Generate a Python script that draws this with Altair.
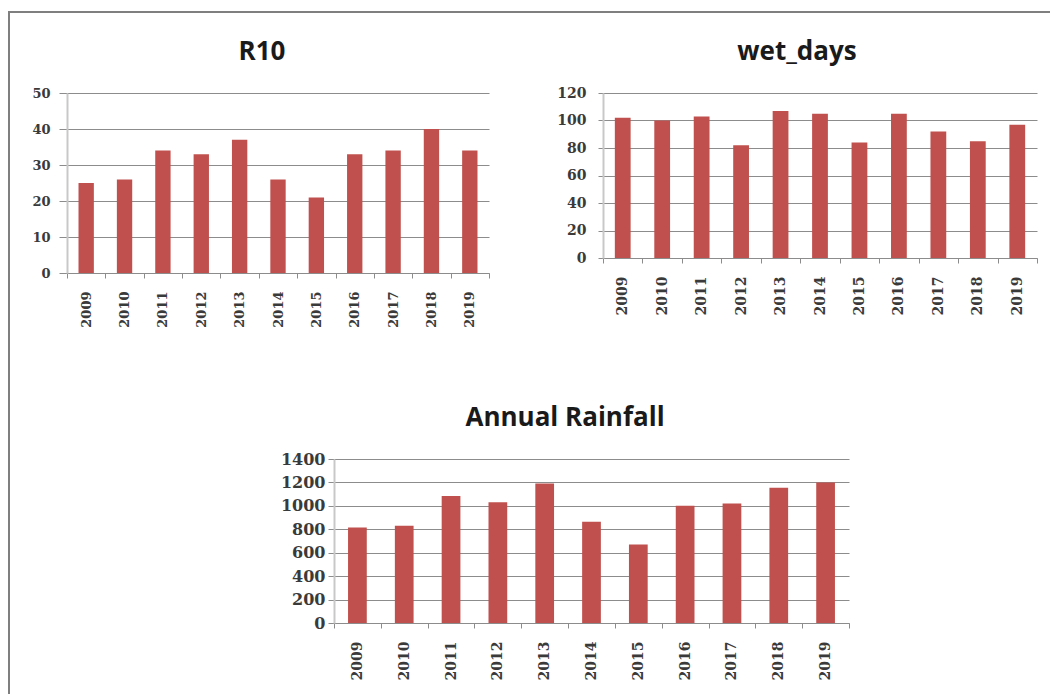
import altair as alt
import pandas as pd

# ---- data -------------------------------------------------------------
years = ["2009", "2010", "2011", "2012", "2013", "2014",
         "2015", "2016", "2017", "2018", "2019"]

r10 = [25, 26, 34, 33, 37, 26, 21, 33, 34, 40, 34]
wet_days = [102, 100, 103, 82, 107, 105, 84, 105, 92, 85, 97]
annual_rainfall = [815, 830, 1085, 1030, 1190, 865, 670, 1000, 1020, 1155, 1200]

r10_ticks = [0, 10, 20, 30, 40, 50]
wet_ticks = [0, 20, 40, 60, 80, 100, 120]
rain_ticks = [0, 200, 400, 600, 800, 1000, 1200, 1400]

# ---- styling ----------------------------------------------------------
BAR = "#C0504D"
GRID = "#8c8c8c"
AXIS_LINE = "#c8c8c8"
FRAME = "#7f7f7f"
LABEL = "#3a3a3a"
LABEL_FONT = "DejaVu Serif"
TITLE_FONT = "Open Sans"

one_row = pd.DataFrame({"k": [0]})


def strip(x1, x2, y1, y2, opacity=1.0):
    """A thin filled strip (picture frame piece or invisible layout guide)."""
    return alt.Chart(one_row).mark_rect(color=FRAME, opacity=opacity).encode(
        x=alt.value(x1), x2=alt.value(x2), y=alt.value(y1), y2=alt.value(y2)
    )


def heading(text, x, y):
    return alt.Chart(one_row).mark_text(
        text=text, font=TITLE_FONT, fontSize=26, fontWeight="bold",
        color="#1a1a1a", align="center", baseline="alphabetic",
    ).encode(x=alt.value(x), y=alt.value(y))


def panel(values, ticks, title, width, height, ysize, xsize,
          ytick, ypad, title_x, extras):
    df = pd.DataFrame({"year": years, "value": values})
    bars = alt.Chart(df).mark_bar(
        color=BAR, width=alt.RelativeBandSize(0.4)
    ).encode(
        x=alt.X(
            "year:N", sort=years,
            scale=alt.Scale(paddingInner=0, paddingOuter=0),
            axis=alt.Axis(
                title=None, labelAngle=-90, labelFont=LABEL_FONT,
                labelFontWeight="bold", labelFontSize=xsize, labelColor=LABEL,
                labelPadding=13, tickSize=5, tickColor=GRID, tickBand="extent",
                domainColor=GRID, domainWidth=1, grid=False,
            ),
        ),
        y=alt.Y(
            "value:Q",
            scale=alt.Scale(domain=[ticks[0], ticks[-1]], nice=False),
            axis=alt.Axis(
                title=None, values=ticks, format="d", labelFont=LABEL_FONT,
                labelFontWeight="bold", labelFontSize=ysize, labelColor=LABEL,
                labelPadding=ypad, tickSize=ytick, tickColor=GRID,
                grid=True, gridColor=GRID, gridWidth=1,
                domainColor=AXIS_LINE, domainWidth=2, labelOverlap=False,
            ),
        ),
    )
    return alt.layer(bars, heading(title, title_x, -33), *extras).properties(
        width=width, height=height
    )


r10_chart = panel(
    r10, r10_ticks, "R10", 422, 180, 13, 13, 8, 9, 195,
    [strip(-59, -57, -82, 270), strip(-59, 478, -82, -80)],
)

wet_chart = panel(
    wet_days, wet_ticks, "wet_days", 434, 165, 14, 14, 5, 12, 194,
    [strip(-58, 447, -82, -80)],
)

rain_chart = panel(
    annual_rainfall, rain_ticks, "Annual Rainfall", 515, 164, 16, 14, 6, 3,
    231, [strip(-60, -59, 0, 1, 0)],
)

# empty column left of the rainfall panel; carries the lower part of the frame
left_gap = alt.layer(strip(-59, -57, -96, 235)).properties(width=207, height=1)

top_row = alt.hconcat(r10_chart, wet_chart, spacing=0)
bottom_row = alt.hconcat(left_gap, rain_chart, spacing=0)

chart = alt.vconcat(top_row, bottom_row, spacing=0).properties(
    padding={"left": 8, "top": 11, "right": 0, "bottom": 0},
    background="white",
).configure_view(strokeWidth=0)

chart.save("out.html", embed_options={"renderer": "svg", "actions": False})
